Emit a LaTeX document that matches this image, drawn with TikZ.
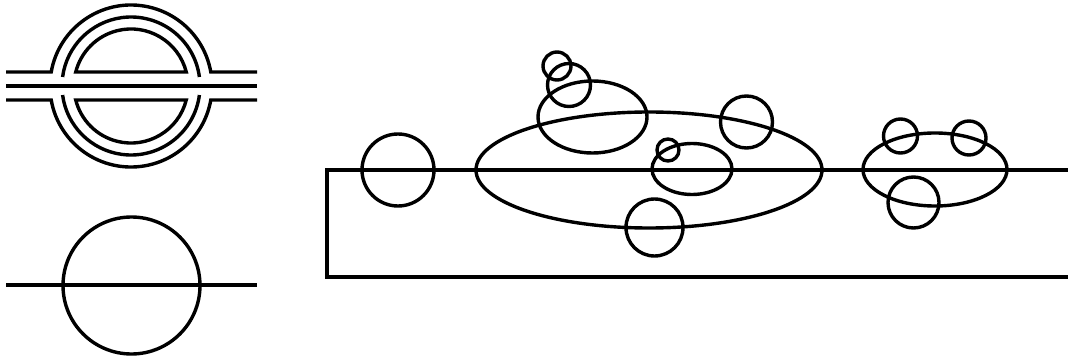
\documentclass[tikz,border=0pt]{standalone}
\usepackage{tikz}

\begin{document}
\begin{tikzpicture}[x=1pt,y=1pt,line width=3.4pt,line join=miter]
\useasboundingbox (0,0) rectangle (1068,-358);
\draw (6,-72) -- ({131-81*cos(9.95)},-72) arc[start angle=170.05,end angle=9.95,radius=81] -- (257,-72);
\draw (6,-100) -- ({131-81*cos(9.95)},-100) arc[start angle=189.95,end angle=350.05,radius=81] -- (257,-100);
\draw (6,-86) -- (257,-86);
\draw ({131+69*cos(7.5)},{-86+69*sin(7.5)}) arc[start angle=7.5,end angle=172.5,radius=69];
\draw ({131+69*cos(7.5)},{-86-69*sin(7.5)}) arc[start angle=-7.5,end angle=-172.5,radius=69];
\draw ({131+57*cos(14.2)},-72) arc[start angle=14.2,end angle=165.8,radius=57] -- cycle;
\draw ({131+57*cos(14.2)},-100) arc[start angle=-14.2,end angle=-165.8,radius=57] -- cycle;
\draw (131.5,-285.5) circle[radius=68.5];
\draw (6,-285) -- (257,-285);
\draw (1070,-170) -- (327,-170) -- (327,-277) -- (1070,-277);
\draw (398,-170) circle[radius=36];
\draw (649,-170) ellipse[x radius=173,y radius=58];
\draw (592.5,-117) ellipse[x radius=54.5,y radius=36];
\draw (569,-85) circle[radius=21.5];
\draw (557,-66) circle[radius=14];
\draw (692,-169) ellipse[x radius=40,y radius=25.5];
\draw (668,-150) circle[radius=11];
\draw (654.5,-227.5) circle[radius=28.5];
\draw (746.5,-122) circle[radius=26];
\draw (935,-169.5) ellipse[x radius=72,y radius=36.5];
\draw (900.5,-136) circle[radius=17];
\draw (969,-138) circle[radius=17];
\draw (913.5,-202.5) circle[radius=25.5];
\end{tikzpicture}
\end{document}
